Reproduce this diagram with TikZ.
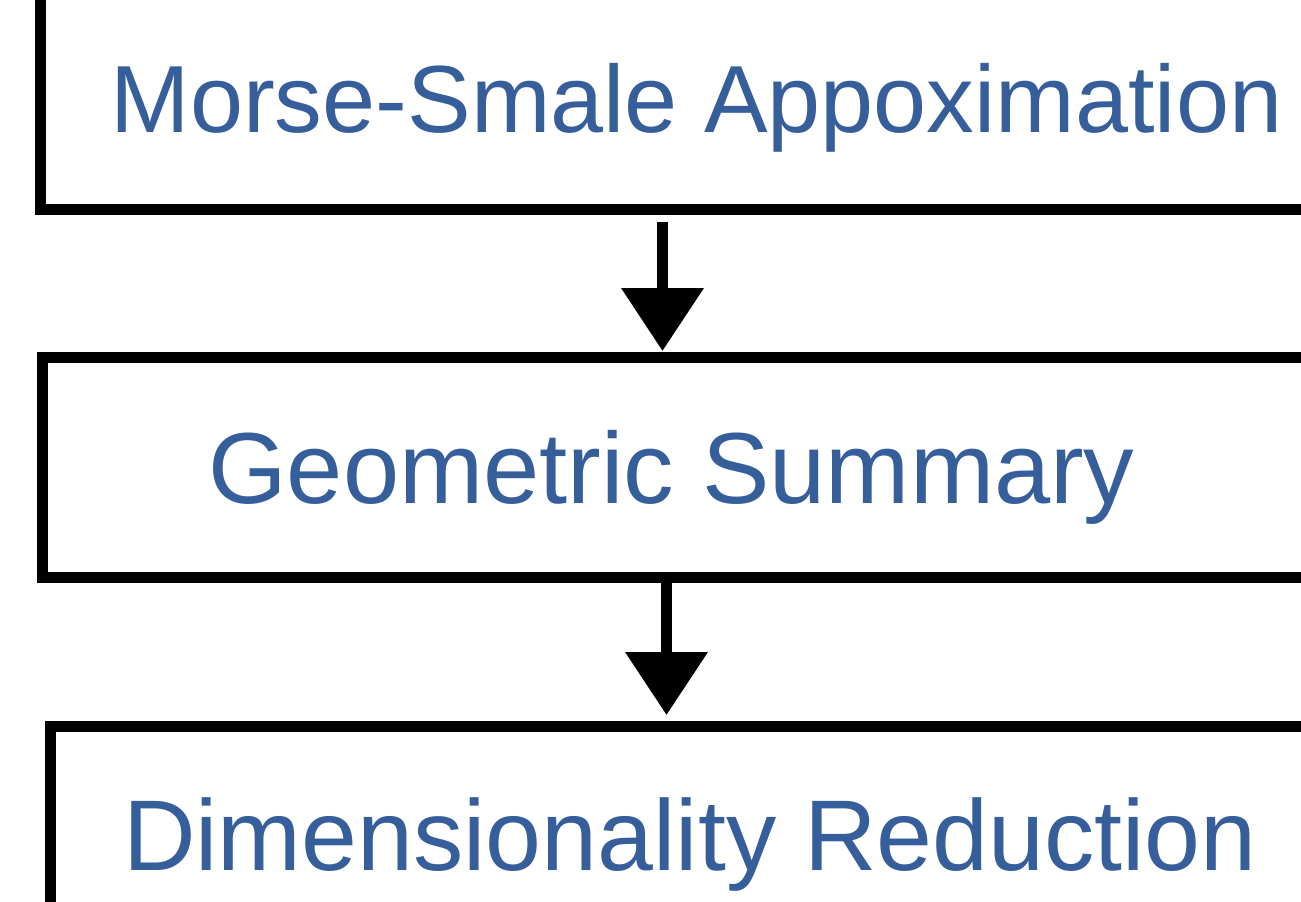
\documentclass[tikz,border=0pt]{standalone}
\usepackage{fontspec}
\setmainfont{Liberation Sans}
\usetikzlibrary{arrows.meta}
\definecolor{txtblue}{RGB}{54,94,154}
\tikzset{
  box/.style={draw=black, line width=0.22cm, inner sep=0pt, outer sep=0pt},
  lbl/.style={text=txtblue, anchor=base, inner sep=0pt},
  arr/.style={line width=0.22cm, -{Triangle[width=1.6cm, length=1.26cm]}}
}
\begin{document}
\begin{tikzpicture}[x=0.02cm, y=-0.02cm]
\useasboundingbox (0,0) rectangle (1301,902);
\clip (0,0) rectangle (1301,902);
\node[box, minimum width=26cm, minimum height=5.4cm] (b1) at (690,75) {};
\node[box, minimum width=25.95cm, minimum height=4.42cm] (b2) at (691.25,467.5) {};
\node[box, minimum width=25.79cm, minimum height=4.68cm] (b3) at (695.25,843) {};
\node[lbl, font=\fontsize{54.3pt}{60pt}\selectfont] (t1) at (696.5,133) {Morse-Smale Appoximation};
\node[lbl, font=\fontsize{57.5pt}{62pt}\selectfont] (t2) at (671.5,503) {Geometric Summary};
\node[lbl, font=\fontsize{57.2pt}{62pt}\selectfont] (t3) at (690,870) {Dimensionality Reduction};
\coordinate (a1) at (662.5,0);
\coordinate (a2) at (666.5,0);
\draw[arr, shorten <=0.24cm, shorten >=0.12cm] (b1.south -| a1) -- (b2.north -| a1);
\draw[arr, shorten <=-0.1cm, shorten >=0.22cm] (b2.south -| a2) -- (b3.north -| a2);
\end{tikzpicture}
\end{document}
